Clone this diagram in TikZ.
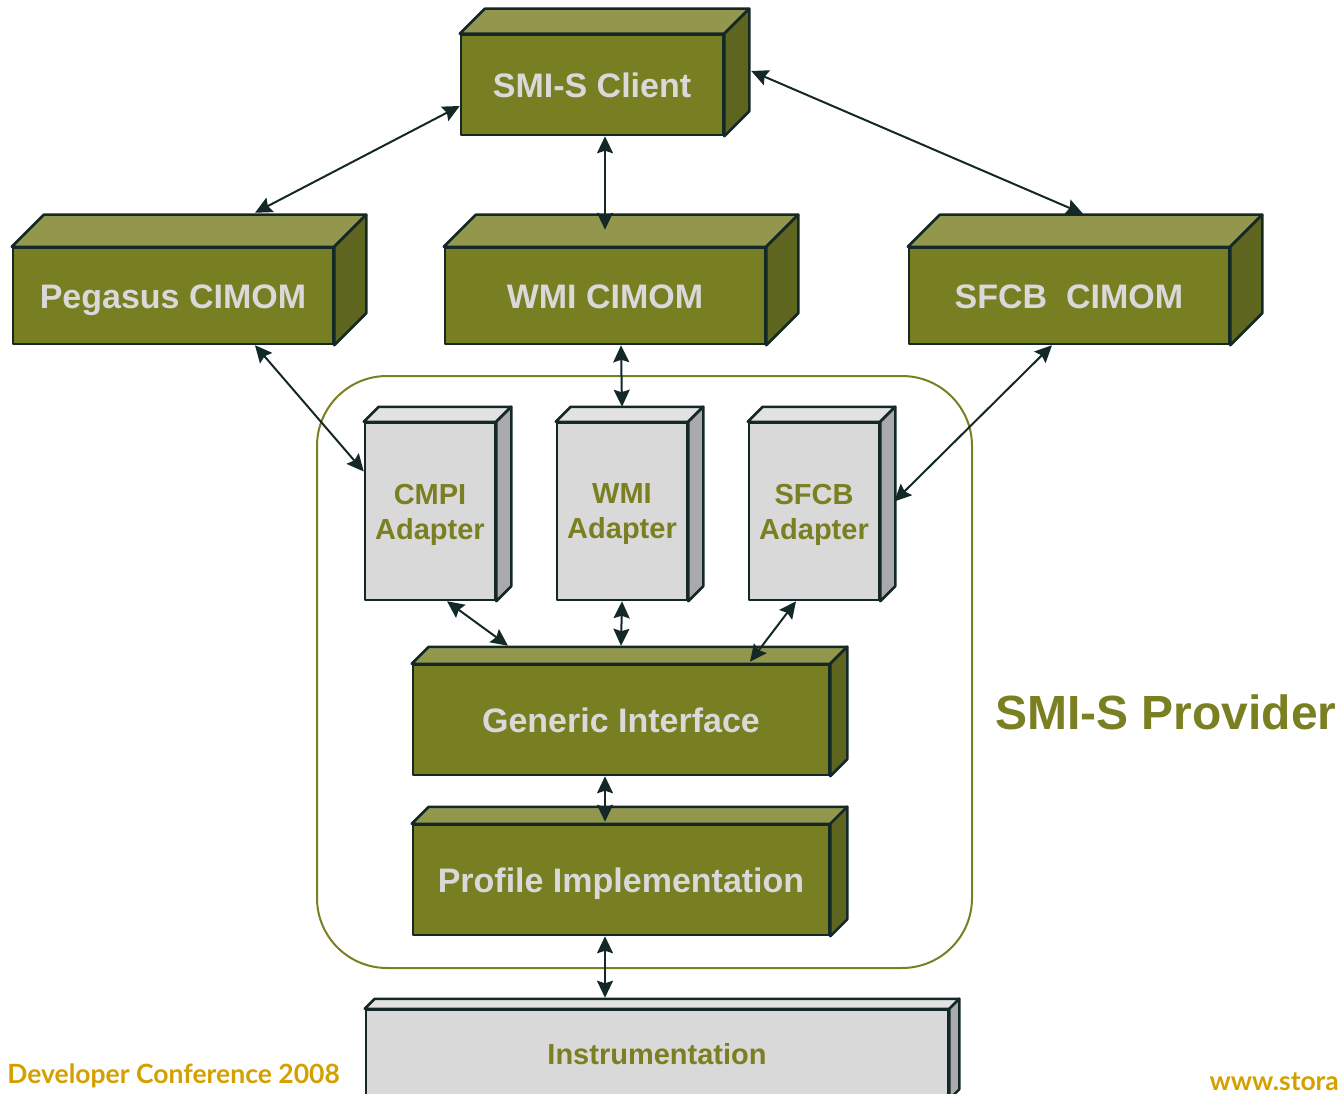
\documentclass[tikz,border=0pt]{standalone}
\usepackage{fontspec}
\setmainfont{Liberation Sans}
\newfontfamily\footfont{Lato}
\usetikzlibrary{positioning,arrows.meta}

\definecolor{olivefront}{RGB}{120,126,34}
\definecolor{olivetop}{RGB}{147,151,78}
\definecolor{oliveside}{RGB}{94,101,30}
\definecolor{greyfront}{RGB}{217,217,217}
\definecolor{greytop}{RGB}{226,226,226}
\definecolor{greyside}{RGB}{170,170,170}
\definecolor{edgecol}{RGB}{20,40,40}
\definecolor{boxtext}{RGB}{217,217,217}
\definecolor{olivetext}{RGB}{122,127,34}
\definecolor{footgold}{RGB}{212,160,0}

% top and right faces of a box node: node, depth, top colour, side colour
\newcommand{\cubefaces}[4]{%
  \filldraw[draw=edgecol, line width=2.5pt, fill=#3] (#1.north west) -- ([shift={(#2,-#2)}]#1.north west)
    -- ([shift={(#2,-#2)}]#1.north east) -- (#1.north east) -- cycle;
  \filldraw[draw=edgecol, line width=2.5pt, fill=#4] (#1.north east) -- ([shift={(#2,-#2)}]#1.north east)
    -- ([shift={(#2,-#2)}]#1.south east) -- (#1.south east) -- cycle;}

\begin{document}
\begin{tikzpicture}[x=1pt, y=-1pt, line join=round,
    olivebox/.style={draw=edgecol, line width=2.5pt, fill=olivefront, text=boxtext, inner sep=0pt,
      font=\fontsize{34}{40}\selectfont\bfseries, text height=24.5pt, text depth=0pt,
      minimum width=320pt, minimum height=96pt},
    greybox/.style={draw=edgecol, line width=2.5pt, fill=greyfront, text=olivetext, inner sep=0pt,
      font=\fontsize{29}{35}\selectfont\bfseries, align=center, text depth=0pt,
      minimum width=130pt, minimum height=177pt},
    link/.style={>={Stealth[length=17pt, width=16pt, inset=2.5pt]}, <->, line width=2pt, draw=edgecol},
    foot/.style={text=footgold, font=\fontsize{26.5}{31}\selectfont\footfont\bfseries, inner sep=0pt}]
    \useasboundingbox (0,0) rectangle (1341,1094);
    \clip (0,0) rectangle (1341,1094);

    \node[draw=olivetext, line width=2pt, rounded corners=70pt, minimum width=655pt, minimum height=592pt] (provider) at (644.5,672) {};
    \node[right=22pt of provider, yshift=-40pt, text=olivetext, font=\fontsize{48}{56}\selectfont\bfseries, inner sep=0pt] (providerlabel) {SMI-S Provider};

    \node[olivebox, minimum width=262pt, minimum height=100pt] (client) at (592,85) {SMI-S Client};
    \node[olivebox] (pegasus) at (173,296) {Pegasus CIMOM};
    \node[olivebox, right=109.5pt of pegasus] (wmicimom) {WMI CIMOM};
    \node[olivebox, right=141.5pt of wmicimom] (sfcbcimom) {SFCB\ \ CIMOM};

    \node[greybox] (cmpi) at (430,511.5) {CMPI\\Adapter};
    \node[greybox, right=59.5pt of cmpi] (wmiad) {WMI\\Adapter};
    \node[greybox, right=59.5pt of wmiad] (sfcbad) {SFCB\\Adapter};

    \node[olivebox, minimum width=416pt, minimum height=110pt, below=62.5pt of wmiad, xshift=-1pt] (generic) {Generic Interface};
    \node[olivebox, minimum width=416pt, minimum height=110pt, below=47.5pt of generic] (profile) {Profile Implementation};
    \node[greybox, minimum width=582pt, minimum height=88pt, text height=21pt, below=72.5pt of profile, xshift=36pt] (instr) {Instrumentation};

    \cubefaces{client}{25}{olivetop}{oliveside}
    \cubefaces{pegasus}{32}{olivetop}{oliveside}
    \cubefaces{wmicimom}{32}{olivetop}{oliveside}
    \cubefaces{sfcbcimom}{32}{olivetop}{oliveside}
    \cubefaces{cmpi}{15}{greytop}{greyside}
    \cubefaces{wmiad}{15}{greytop}{greyside}
    \cubefaces{sfcbad}{15}{greytop}{greyside}
    \cubefaces{generic}{17}{olivetop}{oliveside}
    \cubefaces{profile}{17}{olivetop}{oliveside}
    \cubefaces{instr}{10}{greytop}{greyside}

    \node[foot, anchor=base east] (conf) at (340,1083) {Developer Conference 2008};
    \node[foot, anchor=base east] (url) at (1339,1090) {www.stora};

    \draw[link] ([yshift=-21pt]client.west) -- ([xshift=82pt, yshift=34pt]pegasus.north);
    \draw[link] ([xshift=13pt]client.south) -- ([yshift=17pt]wmicimom.north);
    \draw[link] ([xshift=27pt, yshift=14pt]client.east) -- ([xshift=14pt, yshift=33pt]sfcbcimom.north);
    \draw[link] ([xshift=82pt]pegasus.south) -- ([yshift=40pt]cmpi.west);
    \draw[link] ([xshift=16pt]wmicimom.south) -- ([yshift=15pt]wmiad.north);
    \draw[link] ([xshift=-17pt]sfcbcimom.south) -- ([xshift=14pt, yshift=10pt]sfcbad.east);
    \draw[link] ([xshift=17pt]cmpi.south) -- ([xshift=-113pt, yshift=18pt]generic.north);
    \draw[link] (wmiad.south) -- ([yshift=18pt]generic.north);
    \draw[link] ([xshift=-18pt]sfcbad.south) -- ([xshift=129pt, yshift=2pt]generic.north);
    \draw[link] ([xshift=-16pt]generic.south) -- ([xshift=-16pt, yshift=2pt]profile.north);
    \draw[link] ([xshift=-16pt]profile.south) -- ([xshift=-52pt, yshift=11pt]instr.north);
\end{tikzpicture}
\end{document}
